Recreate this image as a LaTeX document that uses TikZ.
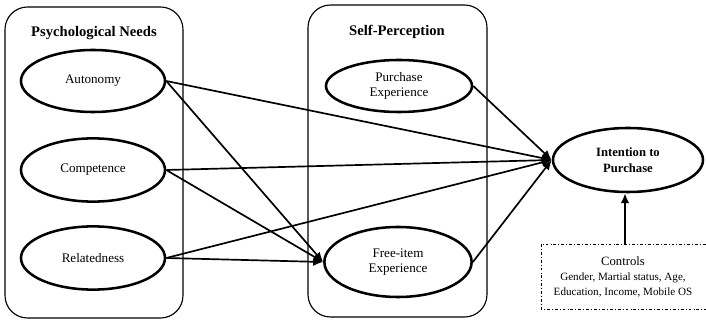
\documentclass[tikz,border=0pt]{standalone}
\usepackage{fontspec}
\setmainfont{Liberation Serif}
\usetikzlibrary{shapes.geometric,arrows.meta}
\tikzset{
  construct/.style={draw, ellipse, line width=1.8pt, align=center, font=\fontsize{9.3}{11}\selectfont},
  group/.style={draw, rounded corners=16pt, line width=0.8pt},
  heading/.style={font=\bfseries\fontsize{10.4}{12}\selectfont},
  path/.style={line width=1.2pt, -{Latex[length=7pt,width=6pt]}}
}
\begin{document}
\begin{tikzpicture}[x=0.025cm, y=-0.025cm]
\useasboundingbox (0,0) rectangle (706,320);
\begin{scope}
\clip (0,0) rectangle (706,320);

% groups
\draw[group] (5,7) rectangle (183,318);
\node[heading] (needs) at (94,33) {Psychological Needs};
\draw[group] (308,5) rectangle (487,317);
\node[heading] (self) at (397,32) {Self-Perception};

% constructs
\node[construct, minimum width=3.6cm, minimum height=1.55cm] (aut) at (93,81) {Autonomy};
\node[construct, minimum width=3.6cm, minimum height=1.58cm] (com) at (93,170) {Competence};
\node[construct, minimum width=3.6cm, minimum height=1.58cm] (rel) at (93,258) {Relatedness};
\node[construct, minimum width=3.65cm, minimum height=1.3cm] (pur) at (399,86) {Purchase\\Experience};
\node[construct, minimum width=3.68cm, minimum height=1.75cm] (fre) at (398,262) {Free-item\\Experience};
\node[construct, minimum width=3.75cm, minimum height=1.6cm, font=\bfseries\fontsize{9}{11}\selectfont] (int) at (628,160) {Intention to\\Purchase};

% controls
\draw[line width=0.7pt, dash pattern=on 2pt off 1.5pt on 0.6pt off 1.5pt] (541,244) rectangle (712,309);
\node[font=\fontsize{9}{10.5}\selectfont, align=center] (ctl) at (623,277) {Controls\\{\fontsize{7.9}{10}\selectfont Gender, Martial status, Age,}\\{\fontsize{7.9}{10}\selectfont Education, Income, Mobile OS}};
\coordinate (ctltop) at (625,244);

% paths
\draw[path] (aut.east) -- (int.west);
\draw[path] (aut.east) -- (fre.west);
\draw[path] (com.east) -- (int.west);
\draw[path] (com.east) -- (fre.west);
\draw[path] (rel.east) -- (int.west);
\draw[path] (rel.east) -- (fre.west);
\draw[path] (pur.east) -- (int.west);
\draw[path] (fre.east) -- (int.west);
\draw[path] (ctltop) -- (ctltop |- int.south);
\end{scope}
\end{tikzpicture}
\end{document}
